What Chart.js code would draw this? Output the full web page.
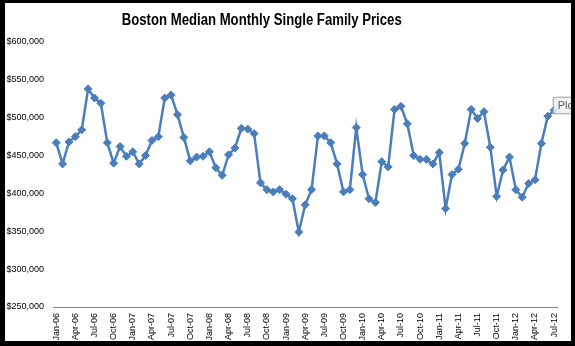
<!DOCTYPE html>
<html>
<head>
<meta charset="utf-8">
<script src="https://cdn.jsdelivr.net/npm/chart.js@4"></script>
<style>
  html, body { margin: 0; padding: 0; background: #000; }
  #frame { position: absolute; left: 5px; top: 3px; width: 566px; height: 338px; background: #fff; }
  canvas { display: block; }
</style>
</head>
<body>
<div id="frame"><canvas id="c" width="566" height="338"></canvas></div>
<script>
const chartTitle = "Boston Median Monthly Single Family Prices";
const months = ["Jan","Feb","Mar","Apr","May","Jun","Jul","Aug","Sep","Oct","Nov","Dec"];
const years = ["06","07","08","09","10","11","12"];
const categories = [];
for (const y of years) for (const m of months) { if (categories.length < 79) categories.push(m + "-" + y); }
const prices = [
  467000, 439000, 468000, 475000, 484000, 538000, 526000, 519000, 467000, 440000, 462000, 449000,
  455000, 439000, 450000, 470000, 475000, 526000, 530000, 504000, 474000, 443000, 448000, 449000,
  455000, 434000, 424000, 451000, 460000, 486000, 485000, 479000, 414000, 405000, 402000, 405000,
  399000, 393000, 349000, 385000, 405000, 476000, 476000, 467000, 439000, 402000, 405000, 487000,
  425000, 393000, 388000, 442000, 435000, 511000, 515000, 492000, 450000, 445000, 445000, 439000,
  454000, 380000, 425000, 432000, 466000, 511000, 499000, 508000, 461000, 396000, 431000, 448000,
  405000, 395000, 413000, 418000, 466000, 502000, 510000
];
const yMin = 250000, yMax = 600000, yStep = 50000;
const tooltipStub = "Plo";

const titlePlugin = {
  id: 'fixedTitle',
  afterDraw(chart) {
    const ctx = chart.ctx;
    ctx.save();
    ctx.font = 'bold 16px "Liberation Sans", Arial, sans-serif';
    ctx.fillStyle = '#000';
    ctx.textAlign = 'center';
    ctx.textBaseline = 'alphabetic';
    ctx.fillText(chartTitle, 256.7, 22, 280);
    // Excel hover label artifact
    const bx = 547.7, by = 93.7, bw = 30, bh = 16.6;
    ctx.fillStyle = 'rgba(240,240,240,0.85)';
    ctx.strokeStyle = '#9a9a9a';
    ctx.lineWidth = 1;
    ctx.beginPath();
    ctx.roundRect(bx + 0.5, by + 0.5, bw, bh, 2);
    ctx.fill();
    ctx.stroke();
    ctx.font = '11px "Liberation Sans", Arial, sans-serif';
    ctx.fillStyle = '#606060';
    ctx.textAlign = 'left';
    ctx.textBaseline = 'middle';
    ctx.fillText(tooltipStub, bx + 5, by + bh / 2 + 1);
    ctx.restore();
  }
};

new Chart(document.getElementById('c'), {
  type: 'line',
  data: {
    labels: categories,
    datasets: [{
      data: prices,
      borderColor: '#4A7EBB',
      backgroundColor: '#4A7EBB',
      borderWidth: 2.5,
      pointStyle: 'rectRot',
      pointRadius: 4,
      pointBackgroundColor: '#4A7EBB',
      pointBorderColor: '#4A7EBB',
      pointBorderWidth: 1,
      tension: 0,
      fill: false
    }]
  },
  options: {
    responsive: false,
    animation: false,
    devicePixelRatio: 1,
    layout: { padding: { top: 39, right: 8, left: 0, bottom: 0 } },
    plugins: { legend: { display: false }, title: { display: false }, tooltip: { enabled: false } },
    scales: {
      x: {
        offset: true,
        grid: { display: false, drawTicks: false },
        border: { display: true, color: '#888888', width: 1 },
        ticks: {
          autoSkip: false,
          maxRotation: 90,
          minRotation: 90,
          padding: 6,
          color: '#000',
          font: { family: '"Liberation Sans", Arial, sans-serif', size: 9 },
          callback: function(v, i) { return i % 3 === 0 ? categories[i] : null; }
        },
        afterFit: function(s) { s.height = 34; }
      },
      y: {
        min: yMin,
        max: yMax,
        grid: { display: false, drawTicks: false },
        border: { display: false },
        ticks: {
          stepSize: yStep,
          padding: 9,
          color: '#000',
          font: { family: '"Liberation Sans", Arial, sans-serif', size: 9 },
          callback: function(v) { return '$' + Number(v).toLocaleString('en-US'); }
        },
        afterFit: function(s) { s.width = 48; }
      }
    }
  },
  plugins: [titlePlugin]
});
</script>
</body>
</html>
